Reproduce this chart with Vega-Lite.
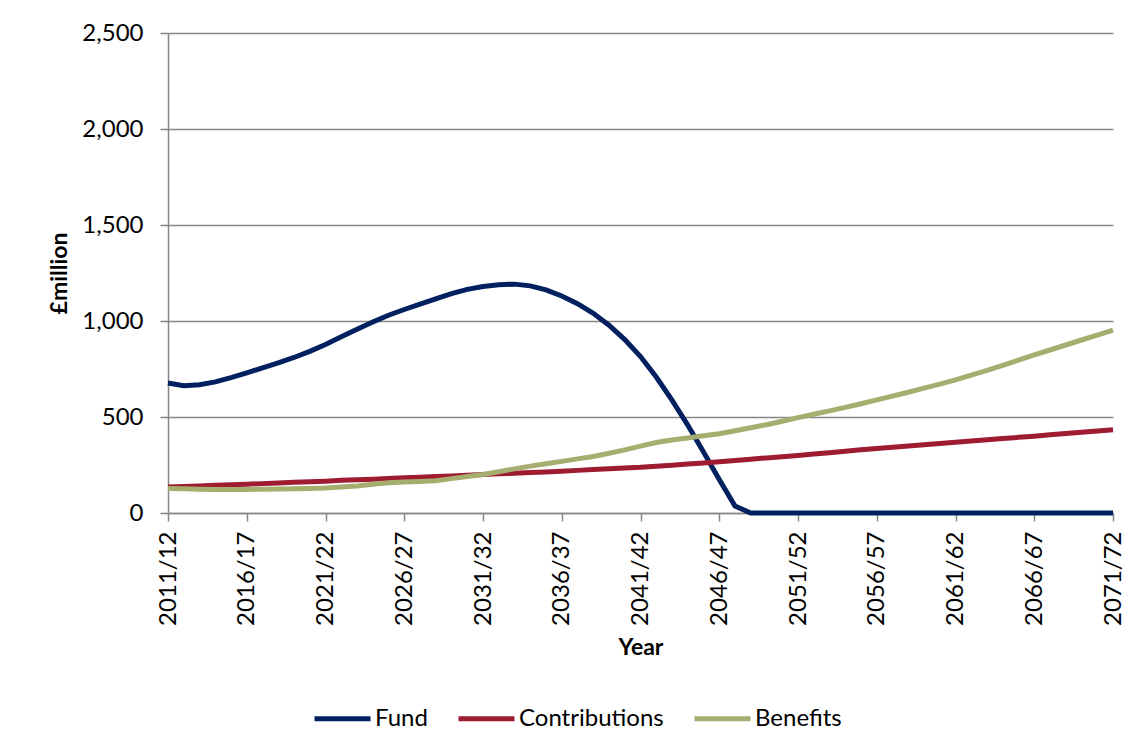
{
  "$schema": "https://vega.github.io/schema/vega-lite/v6.json",
  "width": 945,
  "height": 480,
  "autosize": {"type": "none"},
  "padding": {"left": 168, "top": 33, "right": 24, "bottom": 243},
  "background": "white",
  "config": {
    "font": "Lato",
    "view": {"stroke": null},
    "axis": {
      "labelFont": "Lato",
      "labelFontSize": 24,
      "labelColor": "#000000",
      "titleFont": "Lato",
      "titleFontSize": 23,
      "titleFontWeight": "bold",
      "titleColor": "#000000",
      "domainColor": "#868686",
      "domainWidth": 1.5,
      "tickColor": "#868686",
      "tickWidth": 1.5,
      "tickSize": 8,
      "gridColor": "#868686",
      "gridWidth": 1.5
    },
    "legend": {
      "labelFont": "Lato",
      "labelFontSize": 24,
      "labelColor": "#000000"
    }
  },
  "data": {
    "values": [
      {"year": "2011/12", "Fund": 677, "Contributions": 135, "Benefits": 128},
      {"year": "2012/13", "Fund": 663, "Contributions": 138, "Benefits": 126},
      {"year": "2013/14", "Fund": 668, "Contributions": 141, "Benefits": 124},
      {"year": "2014/15", "Fund": 683, "Contributions": 144, "Benefits": 123},
      {"year": "2015/16", "Fund": 705, "Contributions": 147, "Benefits": 123},
      {"year": "2016/17", "Fund": 730, "Contributions": 150, "Benefits": 123},
      {"year": "2017/18", "Fund": 756, "Contributions": 153, "Benefits": 124},
      {"year": "2018/19", "Fund": 782, "Contributions": 156, "Benefits": 125},
      {"year": "2019/20", "Fund": 810, "Contributions": 160, "Benefits": 126},
      {"year": "2020/21", "Fund": 842, "Contributions": 163, "Benefits": 128},
      {"year": "2021/22", "Fund": 878, "Contributions": 166, "Benefits": 130},
      {"year": "2022/23", "Fund": 918, "Contributions": 170, "Benefits": 135},
      {"year": "2023/24", "Fund": 957, "Contributions": 173, "Benefits": 141},
      {"year": "2024/25", "Fund": 995, "Contributions": 176, "Benefits": 150},
      {"year": "2025/26", "Fund": 1030, "Contributions": 180, "Benefits": 157},
      {"year": "2026/27", "Fund": 1060, "Contributions": 183, "Benefits": 161},
      {"year": "2027/28", "Fund": 1088, "Contributions": 186, "Benefits": 164},
      {"year": "2028/29", "Fund": 1115, "Contributions": 190, "Benefits": 168},
      {"year": "2029/30", "Fund": 1143, "Contributions": 193, "Benefits": 179},
      {"year": "2030/31", "Fund": 1165, "Contributions": 197, "Benefits": 190},
      {"year": "2031/32", "Fund": 1180, "Contributions": 200, "Benefits": 201},
      {"year": "2032/33", "Fund": 1189, "Contributions": 204, "Benefits": 215},
      {"year": "2033/34", "Fund": 1192, "Contributions": 207, "Benefits": 230},
      {"year": "2034/35", "Fund": 1183, "Contributions": 211, "Benefits": 244},
      {"year": "2035/36", "Fund": 1162, "Contributions": 214, "Benefits": 257},
      {"year": "2036/37", "Fund": 1130, "Contributions": 218, "Benefits": 269},
      {"year": "2037/38", "Fund": 1090, "Contributions": 222, "Benefits": 282},
      {"year": "2038/39", "Fund": 1040, "Contributions": 226, "Benefits": 294},
      {"year": "2039/40", "Fund": 978, "Contributions": 230, "Benefits": 311},
      {"year": "2040/41", "Fund": 903, "Contributions": 234, "Benefits": 329},
      {"year": "2041/42", "Fund": 815, "Contributions": 238, "Benefits": 348},
      {"year": "2042/43", "Fund": 708, "Contributions": 244, "Benefits": 367},
      {"year": "2043/44", "Fund": 588, "Contributions": 249, "Benefits": 380},
      {"year": "2044/45", "Fund": 458, "Contributions": 255, "Benefits": 391},
      {"year": "2045/46", "Fund": 318, "Contributions": 261, "Benefits": 402},
      {"year": "2046/47", "Fund": 175, "Contributions": 267, "Benefits": 413},
      {"year": "2047/48", "Fund": 36, "Contributions": 273, "Benefits": 428},
      {"year": "2048/49", "Fund": 0, "Contributions": 280, "Benefits": 444},
      {"year": "2049/50", "Fund": 0, "Contributions": 287, "Benefits": 460},
      {"year": "2050/51", "Fund": 0, "Contributions": 293, "Benefits": 478},
      {"year": "2051/52", "Fund": 0, "Contributions": 300, "Benefits": 497},
      {"year": "2052/53", "Fund": 0, "Contributions": 307, "Benefits": 514},
      {"year": "2053/54", "Fund": 0, "Contributions": 314, "Benefits": 532},
      {"year": "2054/55", "Fund": 0, "Contributions": 322, "Benefits": 550},
      {"year": "2055/56", "Fund": 0, "Contributions": 329, "Benefits": 569},
      {"year": "2056/57", "Fund": 0, "Contributions": 336, "Benefits": 589},
      {"year": "2057/58", "Fund": 0, "Contributions": 343, "Benefits": 609},
      {"year": "2058/59", "Fund": 0, "Contributions": 349, "Benefits": 629},
      {"year": "2059/60", "Fund": 0, "Contributions": 356, "Benefits": 650},
      {"year": "2060/61", "Fund": 0, "Contributions": 362, "Benefits": 671},
      {"year": "2061/62", "Fund": 0, "Contributions": 369, "Benefits": 693},
      {"year": "2062/63", "Fund": 0, "Contributions": 375, "Benefits": 718},
      {"year": "2063/64", "Fund": 0, "Contributions": 381, "Benefits": 743},
      {"year": "2064/65", "Fund": 0, "Contributions": 388, "Benefits": 769},
      {"year": "2065/66", "Fund": 0, "Contributions": 394, "Benefits": 796},
      {"year": "2066/67", "Fund": 0, "Contributions": 400, "Benefits": 823},
      {"year": "2067/68", "Fund": 0, "Contributions": 407, "Benefits": 849},
      {"year": "2068/69", "Fund": 0, "Contributions": 414, "Benefits": 875},
      {"year": "2069/70", "Fund": 0, "Contributions": 420, "Benefits": 901},
      {"year": "2070/71", "Fund": 0, "Contributions": 427, "Benefits": 927},
      {"year": "2071/72", "Fund": 0, "Contributions": 434, "Benefits": 953}
    ]
  },
  "transform": [
    {"fold": ["Fund", "Contributions", "Benefits"], "as": ["series", "value"]}
  ],
  "mark": {"type": "line", "strokeWidth": 5, "interpolate": "linear"},
  "encoding": {
    "x": {
      "field": "year",
      "type": "ordinal",
      "scale": {"type": "point", "padding": 0},
      "axis": {
        "title": "Year",
        "values": ["2011/12", "2016/17", "2021/22", "2026/27", "2031/32", "2036/37", "2041/42", "2046/47", "2051/52", "2056/57", "2061/62", "2066/67", "2071/72"],
        "labelAngle": -90,
        "labelPadding": 10,
        "titlePadding": 11,
        "grid": false
      }
    },
    "y": {
      "field": "value",
      "type": "quantitative",
      "scale": {"domain": [0, 2500], "nice": false},
      "axis": {
        "title": "£million",
        "values": [0, 500, 1000, 1500, 2000, 2500],
        "format": ",.0f",
        "labelPadding": 17,
        "titlePadding": 10,
        "grid": true
      }
    },
    "color": {
      "field": "series",
      "type": "nominal",
      "scale": {
        "domain": ["Fund", "Contributions", "Benefits"],
        "range": ["#002060", "#9E1B32", "#A6AD6F"]
      },
      "legend": {
        "title": null,
        "orient": "none",
        "direction": "horizontal",
        "legendX": 144,
        "legendY": 655,
        "symbolType": "stroke",
        "symbolSize": 3136,
        "symbolStrokeWidth": 5,
        "labelOffset": 2,
        "columnPadding": 20
      }
    }
  }
}
